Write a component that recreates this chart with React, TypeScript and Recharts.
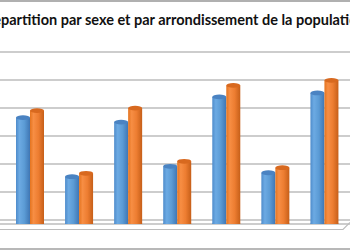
import React from "react";
import { BarChart, Bar, XAxis, YAxis, CartesianGrid } from "recharts";

const arrondissements = ["Arr. 1", "Arr. 2", "Arr. 3", "Arr. 4", "Arr. 5", "Arr. 6", "Arr. 7"];
const hommes = [3800, 1690, 3640, 2060, 4540, 1830, 4680];
const femmes = [4050, 1810, 4140, 2240, 4950, 2010, 5130];
const gridTicks = [0, 1000, 2000, 3000, 4000, 5000, 6000];
const titleLead = "Ré";
const titleRest = "partition par sexe et par arrondissement de la population";

const data = arrondissements.map((a, i) => ({ name: a, hommes: hommes[i], femmes: femmes[i] }));

const Cylinder = (props: any) => {
  const { x, y, width, height, grad, top } = props;
  if (width == null || height == null) return null;
  const cx = x + width / 2;
  const rx = width / 2;
  const ry = 2.4;
  return (
    <g>
      <ellipse cx={cx} cy={y + height} rx={rx} ry={ry} fill={`url(#${grad})`} />
      <rect x={x} y={y} width={width} height={height} fill={`url(#${grad})`} />
      <ellipse cx={cx} cy={y} rx={rx} ry={ry} fill={top} />
    </g>
  );
};

export default function App() {
  return (
    <div style={{ position: "absolute", left: 0, top: 0, width: 350, height: 250, background: "#fff", overflow: "hidden" }}>
      <div style={{ position: "absolute", left: 0, top: 0, width: 350, height: 2, background: "#b0b0b0" }} />
      <div style={{ position: "absolute", left: 0, top: 248, width: 350, height: 2, background: "#b8b8b8" }} />
      <div
        style={{
          position: "absolute",
          left: 1,
          top: 11,
          whiteSpace: "nowrap",
          fontFamily: "Lato, 'Open Sans', sans-serif",
          fontWeight: 700,
          fontSize: 14.5,
          color: "#111",
          lineHeight: "18px",
        }}
      >
        <span style={{ position: "relative" }}>
          <span style={{ position: "absolute", right: "100%" }}>{titleLead}</span>
          {titleRest}
        </span>
      </div>
      <svg width={350} height={250} style={{ position: "absolute", left: 0, top: 0 }}>
        <path d="M0 229.5 L343 229.5 L350 222.5" fill="none" stroke="#bcbcbc" strokeWidth={1.2} />
      </svg>
      <div style={{ position: "absolute", left: 0, top: 0 }}>
        <BarChart
          width={350}
          height={250}
          data={data}
          margin={{ top: 52, right: 0, bottom: 26, left: 0 }}
          barSize={14}
          barGap={0}
        >
          <defs>
            <linearGradient id="gBlue" x1="0" y1="0" x2="1" y2="0">
              <stop offset="0%" stopColor="#4f8ccb" />
              <stop offset="25%" stopColor="#6caae3" />
              <stop offset="60%" stopColor="#5b9bd5" />
              <stop offset="100%" stopColor="#3f76b4" />
            </linearGradient>
            <linearGradient id="gOrange" x1="0" y1="0" x2="1" y2="0">
              <stop offset="0%" stopColor="#e4741f" />
              <stop offset="25%" stopColor="#f78e44" />
              <stop offset="60%" stopColor="#ed7d31" />
              <stop offset="100%" stopColor="#c65f19" />
            </linearGradient>
          </defs>
          <CartesianGrid
            vertical={false}
            yAxisId="grid"
            stroke="#bdbdbd"
            strokeWidth={1.5}
          />
          <XAxis dataKey="name" hide padding={{ left: 5, right: 1.5 }} />
          <YAxis yAxisId="grid" hide type="number" domain={[-143, 6000]} ticks={gridTicks} allowDataOverflow />
          <YAxis yAxisId="bars" hide type="number" domain={[0, 6143]} allowDataOverflow />
          <Bar
            yAxisId="bars"
            dataKey="hommes"
            name="Hommes"
            fill="#5b9bd5"
            isAnimationActive={false}
            shape={(p: any) => <Cylinder {...p} grad="gBlue" top="#4a83c2" />}
          />
          <Bar
            yAxisId="bars"
            dataKey="femmes"
            name="Femmes"
            fill="#ed7d31"
            isAnimationActive={false}
            shape={(p: any) => <Cylinder {...p} grad="gOrange" top="#d8691f" />}
          />
        </BarChart>
      </div>
    </div>
  );
}
